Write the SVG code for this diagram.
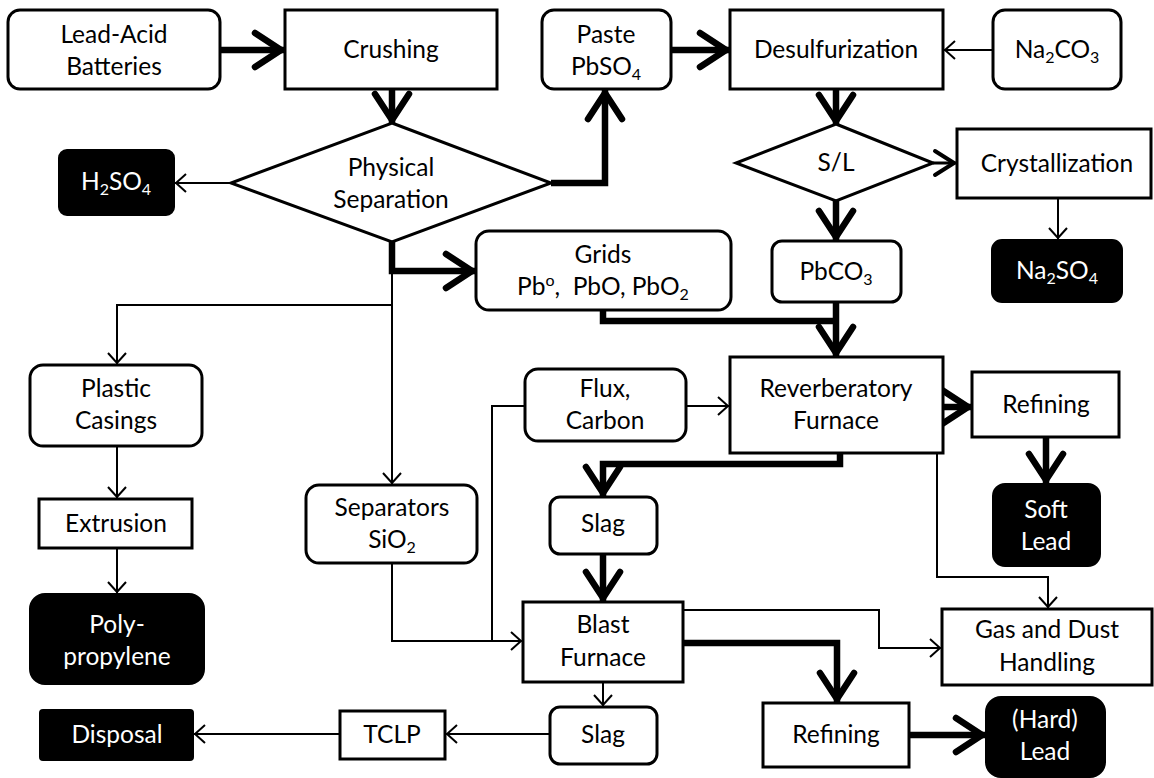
<svg xmlns="http://www.w3.org/2000/svg" width="1154" height="778" viewBox="0 0 1154 778">
<style>
.box{fill:#fff;stroke:#000;stroke-width:3}
.blk{fill:#000;stroke:#000;stroke-width:2}
.t{font-family:Lato,'Liberation Sans',sans-serif;font-size:24.5px;text-anchor:middle;fill:#000;white-space:pre}
.w{fill:#fff}
.thin{fill:none;stroke:#000;stroke-width:2}
.thick{fill:none;stroke:#000;stroke-width:6.5}
.med{fill:none;stroke:#000;stroke-width:3}
</style>
<defs>
<marker id="ah" markerUnits="userSpaceOnUse" viewBox="-14 -12 16 24" refX="0" refY="0" markerWidth="16" markerHeight="24" orient="auto" overflow="visible">
<path d="M-11,-9 L-1,0 L-11,9" fill="none" stroke="#000" stroke-width="2"/>
</marker>
<marker id="ahT" markerUnits="userSpaceOnUse" viewBox="-34 -22 36 44" refX="0" refY="0" markerWidth="36" markerHeight="44" orient="auto" overflow="visible">
<path d="M-29,-17 L-3,0 L-29,17" fill="none" stroke="#000" stroke-width="6.5" stroke-linecap="round" stroke-linejoin="round"/>
</marker>
<marker id="ahM" markerUnits="userSpaceOnUse" viewBox="-26 -16 28 32" refX="0" refY="0" markerWidth="28" markerHeight="32" orient="auto" overflow="visible">
<path d="M-21,-12 L-2,0 L-21,12" fill="none" stroke="#000" stroke-width="4" stroke-linecap="round" stroke-linejoin="round"/>
</marker>
</defs>

<g id="connectors">
<path class="thick" d="M220,50 H284" marker-end="url(#ahT)"/>
<path class="thick" d="M392,89 V123" marker-end="url(#ahT)"/>
<path class="thick" d="M551,183 H605 V90" marker-end="url(#ahT)"/>
<path class="thick" d="M671,50 H729" marker-end="url(#ahT)"/>
<path class="thin" d="M993,50 H944" marker-end="url(#ah)"/>
<path class="thick" d="M836,89 V124" marker-end="url(#ahT)"/>
<path class="med" d="M933,163 H956" marker-end="url(#ahM)"/>
<path class="thin" d="M1058,198 V239" marker-end="url(#ah)"/>
<path class="thick" d="M836,201 V240" marker-end="url(#ahT)"/>
<path class="thin" d="M231,183 H175" marker-end="url(#ah)"/>
<path class="thick" d="M392,242 V271 H475" marker-end="url(#ahT)"/>
<path class="thin" d="M392,271 V484" marker-end="url(#ah)"/>
<path class="thin" d="M392,305 H117 V364" marker-end="url(#ah)"/>
<path class="thin" d="M117,446 V498" marker-end="url(#ah)"/>
<path class="thin" d="M117,548 V593" marker-end="url(#ah)"/>
<path class="thick" d="M603,310 V321 H836"/>
<path class="thick" d="M836,302 V356" marker-end="url(#ahT)"/>
<path class="thin" d="M686,406 H729" marker-end="url(#ah)"/>
<path class="thin" d="M525,406 H492 V641"/>
<path class="thin" d="M392,563 V641 H522" marker-end="url(#ah)"/>
<path class="thick" d="M943,407 H971" marker-end="url(#ahT)"/>
<path class="thick" d="M1046,437 V483" marker-end="url(#ahT)"/>
<path class="thick" d="M840,453 V464 H603 V496" marker-end="url(#ahT)"/>
<path class="thin" d="M937,453 V577 H1048 V608" marker-end="url(#ah)"/>
<path class="thick" d="M603,554 V601" marker-end="url(#ahT)"/>
<path class="thin" d="M683,610 H879 V648 H941" marker-end="url(#ah)"/>
<path class="thick" d="M683,643 H837 V702" marker-end="url(#ahT)"/>
<path class="thin" d="M603,682 V706" marker-end="url(#ah)"/>
<path class="thick" d="M909,735 H985" marker-end="url(#ahT)"/>
<path class="thin" d="M550,734 H446" marker-end="url(#ah)"/>
<path class="thin" d="M340,734 H194" marker-end="url(#ah)"/>
</g>

<g id="lead-acid"><rect class="box" x="8" y="10" width="212" height="79" rx="12"/><text class="t" x="114" y="43">Lead-Acid</text><text class="t" x="114" y="75">Batteries</text></g>
<g id="crushing"><rect class="box" x="285" y="10" width="212" height="79"/><text class="t" x="391" y="58">Crushing</text></g>
<g id="paste"><rect class="box" x="542" y="10" width="129" height="79" rx="12"/><text class="t" x="606" y="43">Paste</text><text class="t" x="606" y="75">PbSO<tspan dy="5" font-size="16">4</tspan></text></g>
<g id="desulf"><rect class="box" x="730" y="10" width="213" height="79"/><text class="t" x="836" y="58">Desulfurization</text></g>
<g id="na2co3"><rect class="box" x="993" y="10" width="128" height="79" rx="12"/><text class="t" x="1057" y="58">Na<tspan dy="5" font-size="16">2</tspan><tspan dy="-5">CO</tspan><tspan dy="5" font-size="16">3</tspan></text></g>
<g id="physical"><polygon class="box" points="392,123 551,183 392,242 231,183"/><text class="t" x="391" y="176">Physical</text><text class="t" x="391" y="208">Separation</text></g>
<g id="h2so4"><rect class="blk" x="59" y="150" width="115" height="65" rx="8"/><text class="t w" x="116" y="190">H<tspan dy="5" font-size="16">2</tspan><tspan dy="-5">SO</tspan><tspan dy="5" font-size="16">4</tspan></text></g>
<g id="sl"><polygon class="box" points="836,124 933,163 836,201 736,163"/><text class="t" x="836" y="171">S/L</text></g>
<g id="cryst"><rect class="box" x="957" y="129" width="194" height="69"/><text class="t" x="1057" y="172">Crystallization</text></g>
<g id="na2so4"><rect class="blk" x="992" y="240" width="130" height="62" rx="10"/><text class="t w" x="1057" y="279">Na<tspan dy="5" font-size="16">2</tspan><tspan dy="-5">SO</tspan><tspan dy="5" font-size="16">4</tspan></text></g>
<g id="pbco3"><rect class="box" x="772" y="241" width="129" height="61" rx="10"/><text class="t" x="836" y="280">PbCO<tspan dy="5" font-size="16">3</tspan></text></g>
<g id="grids"><rect class="box" x="476" y="231" width="255" height="79" rx="13"/><text class="t" x="603" y="263">Grids</text><text class="t" x="603" y="295">Pb<tspan dy="-9" font-size="16">o</tspan><tspan dy="9">,  PbO, PbO</tspan><tspan dy="5" font-size="16">2</tspan></text></g>
<g id="flux"><rect class="box" x="525" y="369" width="161" height="72" rx="13"/><text class="t" x="605" y="397">Flux,</text><text class="t" x="605" y="429">Carbon</text></g>
<g id="reverb"><rect class="box" x="730" y="357" width="213" height="96"/><text class="t" x="836" y="397">Reverberatory</text><text class="t" x="836" y="429">Furnace</text></g>
<g id="refining1"><rect class="box" x="972" y="372" width="147" height="65"/><text class="t" x="1046" y="413">Refining</text></g>
<g id="softlead"><rect class="blk" x="993" y="484" width="107" height="82" rx="12"/><text class="t w" x="1046" y="518">Soft</text><text class="t w" x="1046" y="550">Lead</text></g>
<g id="plastic"><rect class="box" x="30" y="365" width="172" height="81" rx="13"/><text class="t" x="116" y="397">Plastic</text><text class="t" x="116" y="429">Casings</text></g>
<g id="extrusion"><rect class="box" x="39" y="499" width="153" height="49"/><text class="t" x="116" y="532">Extrusion</text></g>
<g id="poly"><rect class="blk" x="30" y="594" width="174" height="90" rx="15"/><text class="t w" x="117" y="633">Poly-</text><text class="t w" x="117" y="665">propylene</text></g>
<g id="separators"><rect class="box" x="306" y="485" width="171" height="78" rx="13"/><text class="t" x="392" y="516">Separators</text><text class="t" x="392" y="548">SiO<tspan dy="5" font-size="16">2</tspan></text></g>
<g id="slag1"><rect class="box" x="550" y="497" width="107" height="57" rx="10"/><text class="t" x="603" y="532">Slag</text></g>
<g id="blast"><rect class="box" x="523" y="602" width="160" height="80"/><text class="t" x="603" y="633">Blast</text><text class="t" x="603" y="666">Furnace</text></g>
<g id="gas"><rect class="box" x="942" y="609" width="210" height="76"/><text class="t" x="1047" y="638">Gas and Dust</text><text class="t" x="1047" y="671">Handling</text></g>
<g id="slag2"><rect class="box" x="550" y="707" width="107" height="57" rx="10"/><text class="t" x="603" y="743">Slag</text></g>
<g id="refining2"><rect class="box" x="763" y="703" width="146" height="64"/><text class="t" x="836" y="743">Refining</text></g>
<g id="hardlead"><rect class="blk" x="986" y="697" width="119" height="80" rx="15"/><text class="t w" x="1045" y="728">(Hard)</text><text class="t w" x="1045" y="760">Lead</text></g>
<g id="tclp"><rect class="box" x="340" y="711" width="105" height="48"/><text class="t" x="392" y="743">TCLP</text></g>
<g id="disposal"><rect class="blk" x="40" y="710" width="153" height="50" rx="3"/><text class="t w" x="117" y="743">Disposal</text></g>
</svg>
